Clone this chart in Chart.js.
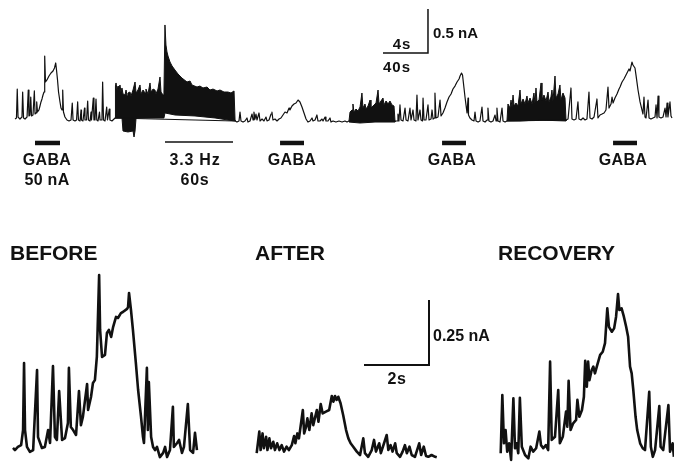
<!DOCTYPE html>
<html>
<head>
<meta charset="utf-8">
<script src="https://cdn.jsdelivr.net/npm/chart.js@4.4.0/dist/chart.umd.min.js"></script>
<style>
  html, body { margin:0; padding:0; background:#fff; }
  #wrap { position:relative; width:674px; height:464px; overflow:hidden; background:#fff; }
  canvas { position:absolute; left:0; }
  .t { position:absolute; font-family:"Liberation Sans", Arial, sans-serif; font-weight:bold; color:#111; white-space:nowrap; line-height:1; }
  .c { transform:translate(-50%,-50%); }
  .l { transform:translate(0,-50%); }
</style>
</head>
<body>
<div id="wrap">
  <canvas id="top" width="674" height="200" style="top:0"></canvas>
  <canvas id="bot" width="674" height="204" style="top:260px"></canvas>

  <div class="t c" style="left:47px;top:160px;font-size:16px;letter-spacing:0.3px">GABA</div>
  <div class="t c" style="left:47px;top:180px;font-size:16px;letter-spacing:0.3px">50 nA</div>
  <div class="t c" style="left:195px;top:160px;font-size:16px;letter-spacing:0.8px">3.3 Hz</div>
  <div class="t c" style="left:195px;top:180px;font-size:16px;letter-spacing:0.8px">60s</div>
  <div class="t c" style="left:292px;top:160px;font-size:16px;letter-spacing:0.3px">GABA</div>
  <div class="t c" style="left:452px;top:160px;font-size:16px;letter-spacing:0.3px">GABA</div>
  <div class="t c" style="left:623px;top:160px;font-size:16px;letter-spacing:0.3px">GABA</div>
  <div class="t c" style="left:402px;top:43px;font-size:15px;letter-spacing:1px">4s</div>
  <div class="t c" style="left:397px;top:66px;font-size:15px;letter-spacing:1px">40s</div>
  <div class="t l" style="left:433px;top:32px;font-size:15px">0.5 nA</div>

  <div class="t l" style="left:10px;top:252px;font-size:21px">BEFORE</div>
  <div class="t l" style="left:255px;top:252px;font-size:21px">AFTER</div>
  <div class="t l" style="left:498px;top:252px;font-size:21px">RECOVERY</div>
  <div class="t c" style="left:397px;top:379px;font-size:16px;letter-spacing:0.5px">2s</div>
  <div class="t l" style="left:433px;top:336px;font-size:16px">0.25 nA</div>
</div>
<script>
// ---------- DATA: top slow record (time s, current nA) ----------
const topSegA = [[0,0.045],[1.3,0.057],[2.0,0.386],[2.7,0.068],[4.4,0.045],[6.2,0.068],[6.8,0.352],[7.6,0.057],[8.9,0.045],[10.7,0.068],[11.8,0.375],[12.4,0.080],[13.3,0.091],[14.0,0.295],[14.7,0.080],[16.0,0.091],[17.2,0.364],[17.8,0.102],[18.7,0.114],[19.3,0.239],[20.0,0.125],[21.3,0.148],[22.2,0.193],[23.1,0.239],[24.0,0.273],[24.9,0.318],[25.8,0.352],[26.4,0.761],[27.1,0.466],[28.4,0.489],[30.2,0.534],[32.0,0.568],[33.8,0.591],[35.1,0.625],[36.2,0.682],[36.9,0.602],[37.8,0.489],[38.7,0.352],[40.0,0.239],[40.9,0.170],[41.8,0.148],[42.4,0.375],[43.1,0.125],[44.4,0.068],[46.2,0.034],[48.0,0.023],[49.8,0.034],[50.9,0.227],[51.6,0.034],[53.3,0.023],[54.7,0.034],[55.7,0.239],[56.4,0.034],[57.8,0.023],[58.7,0.148],[59.1,0.034],[60.4,0.023],[61.8,0.170],[62.2,0.034],[63.6,0.034],[64.6,0.250],[65.3,0.034],[66.7,0.023],[67.6,0.125],[68.0,0.034],[69.6,0.284],[70.2,0.034],[71.1,0.034],[72.0,0.273],[72.7,0.034],[73.8,0.023],[75.1,0.125],[75.6,0.034],[77.3,0.034],[77.9,0.466],[78.7,0.034],[80.0,0.023],[81.5,0.182],[82.2,0.034],[83.8,0.159],[84.4,0.034],[86.2,0.023],[88.0,0.045],[88.9,0.057]];
const topSegB = [[195.6,0.023],[197.3,0.011],[199.1,0.023],[200.0,0.125],[200.9,0.023],[202.7,0.011],[204.4,0.023],[206.2,0.057],[207.1,0.011],[208.9,0.023],[210.7,0.102],[211.6,0.034],[212.4,0.125],[213.3,0.045],[214.2,0.102],[215.1,0.034],[216.9,0.114],[217.8,0.023],[219.6,0.045],[221.3,0.023],[223.1,0.068],[224.0,0.023],[225.8,0.034],[227.6,0.102],[228.4,0.125],[229.3,0.034],[231.1,0.045],[232.9,0.023],[234.7,0.045],[236.4,0.057],[238.2,0.091],[240.0,0.125],[241.8,0.114],[243.6,0.170],[244.4,0.148],[246.2,0.193],[248.0,0.216],[249.8,0.227],[251.6,0.261],[253.3,0.239],[255.1,0.182],[256.9,0.114],[258.7,0.045],[260.4,0.011],[262.2,0.023],[264.0,0.057],[264.9,0.023],[266.7,0.034],[268.4,0.091],[269.3,0.023],[271.1,0.023],[272.9,0.045],[273.8,0.023],[275.6,0.068],[276.4,0.023],[278.2,0.023],[280.0,0.057],[280.9,0.011],[282.7,0.023],[285.3,0.011],[288.0,0.023],[290.7,0.011],[293.3,0.023],[295.1,0.011],[296.9,0.023]];
const topSegC = [[337.8,0.023],[339.6,0.023],[340.4,0.102],[341.3,0.023],[342.2,0.205],[343.1,0.034],[344.9,0.023],[346.7,0.170],[347.6,0.034],[349.3,0.023],[351.1,0.170],[352.0,0.034],[353.8,0.148],[354.7,0.034],[356.4,0.023],[357.3,0.318],[358.2,0.034],[360.0,0.148],[360.9,0.034],[362.2,0.023],[362.7,0.284],[363.6,0.034],[365.3,0.034],[367.1,0.205],[368.0,0.034],[369.8,0.045],[370.7,0.148],[371.6,0.045],[372.9,0.057],[373.3,0.341],[374.2,0.057],[376.0,0.068],[377.8,0.261],[378.7,0.080],[380.4,0.114],[382.2,0.170],[384.0,0.239],[385.8,0.295],[387.6,0.330],[389.3,0.386],[391.1,0.420],[392.9,0.466],[394.7,0.500],[395.6,0.534],[396.9,0.568],[397.8,0.545],[399.1,0.398],[400.0,0.295],[400.9,0.205],[401.8,0.114],[402.7,0.284],[403.1,0.091],[404.4,0.057],[406.2,0.034],[408.0,0.023],[408.9,0.125],[409.8,0.023],[411.6,0.011],[413.3,0.023],[415.1,0.182],[416.0,0.023],[417.8,0.011],[419.6,0.034],[420.4,0.170],[421.3,0.023],[423.1,0.011],[424.9,0.023],[426.7,0.091],[427.6,0.023],[428.4,0.170],[429.3,0.023],[431.1,0.011],[432.9,0.170],[433.8,0.023],[435.6,0.011],[437.3,0.023]];
const topSegD = [[489.8,0.034],[491.6,0.045],[494.2,0.398],[495.1,0.045],[496.9,0.034],[498.7,0.045],[500.4,0.239],[501.3,0.045],[503.1,0.034],[504.9,0.057],[506.7,0.034],[508.4,0.045],[510.2,0.352],[511.1,0.057],[512.9,0.045],[514.7,0.068],[517.3,0.273],[518.2,0.057],[520.0,0.091],[521.8,0.102],[523.6,0.114],[525.3,0.148],[527.1,0.409],[528.0,0.170],[529.8,0.216],[530.7,0.295],[531.6,0.227],[533.3,0.284],[535.1,0.330],[536.9,0.386],[537.8,0.409],[539.6,0.466],[541.3,0.500],[543.1,0.545],[544.0,0.568],[545.8,0.614],[546.7,0.591],[548.4,0.693],[549.3,0.659],[551.1,0.625],[552.0,0.545],[553.8,0.375],[555.6,0.239],[557.3,0.148],[558.2,0.102],[559.1,0.295],[560.0,0.068],[560.9,0.057],[562.7,0.261],[563.6,0.057],[565.3,0.045],[567.1,0.057],[568.9,0.068],[569.8,0.205],[570.7,0.057],[571.6,0.307],[572.4,0.068],[574.2,0.057],[576.0,0.068],[577.8,0.170],[578.7,0.068],[579.6,0.227],[580.4,0.068],[582.2,0.239],[583.1,0.080],[584.0,0.057]];

// dense (unresolved) activity: upper and lower envelopes
const burst1Upper = [[88.9,0.057],[89.3,0.420],[89.8,0.455],[90.7,0.375],[91.6,0.420],[92.4,0.364],[93.3,0.432],[94.2,0.352],[95.1,0.398],[96.0,0.330],[97.8,0.318],[98.7,0.375],[99.6,0.307],[100.4,0.341],[102.2,0.352],[103.1,0.307],[104.9,0.375],[106.7,0.466],[107.6,0.341],[109.3,0.375],[111.1,0.432],[112.0,0.330],[113.8,0.375],[115.6,0.341],[116.4,0.386],[118.2,0.330],[120.0,0.455],[120.9,0.352],[122.7,0.386],[124.4,0.375],[125.3,0.330],[127.1,0.386],[128.9,0.523],[129.8,0.352],[131.6,0.318],[132.4,0.352],[133.3,1.114],[134.2,0.886],[135.1,0.807],[136.0,0.761],[137.8,0.693],[139.6,0.648],[142.2,0.602],[144.9,0.557],[148.4,0.511],[152.9,0.466],[155.6,0.477],[157.3,0.432],[161.8,0.409],[164.4,0.420],[167.1,0.398],[170.7,0.409],[173.3,0.375],[176.0,0.386],[179.6,0.364],[182.2,0.375],[185.8,0.352],[189.3,0.352],[192.0,0.341],[194.7,0.364],[195.6,0.034]];
const burst1Lower = [[88.9,0.057],[95.1,0.057],[96.0,-0.091],[100.4,-0.102],[104.9,-0.091],[105.8,-0.159],[106.7,-0.091],[107.6,0.057],[120.0,0.057],[132.4,0.057],[133.3,0.114],[142.2,0.091],[160.0,0.080],[177.8,0.057],[189.3,0.034],[195.6,0.023]];
const burst2Upper = [[296.9,0.023],[297.8,0.125],[299.6,0.148],[300.4,0.216],[301.3,0.125],[303.1,0.159],[304.9,0.136],[306.7,0.182],[308.4,0.341],[309.3,0.170],[311.1,0.216],[312.0,0.159],[313.8,0.193],[315.6,0.261],[316.4,0.170],[319.1,0.205],[320.9,0.227],[322.7,0.375],[323.6,0.216],[325.3,0.250],[327.1,0.284],[328.0,0.205],[329.8,0.250],[331.6,0.216],[333.3,0.250],[335.1,0.205],[336.9,0.193],[337.8,0.023]];
const burst2Lower = [[296.9,0.011],[306.7,0],[320.0,0.011],[337.8,0.011]];
const burst3Upper = [[437.3,0.023],[438.2,0.216],[440.0,0.170],[440.9,0.261],[441.8,0.182],[442.7,0.318],[443.6,0.193],[445.3,0.227],[447.1,0.193],[448.9,0.375],[449.8,0.216],[451.6,0.273],[453.3,0.216],[455.1,0.307],[456.0,0.227],[457.8,0.284],[459.6,0.216],[461.3,0.341],[462.2,0.227],[463.1,0.398],[464.0,0.239],[465.8,0.261],[467.6,0.455],[468.4,0.261],[470.2,0.318],[472.0,0.250],[473.8,0.352],[474.7,0.239],[476.4,0.295],[477.3,0.375],[478.2,0.250],[480.0,0.534],[480.9,0.284],[482.7,0.330],[484.4,0.432],[485.3,0.261],[487.1,0.341],[488.9,0.284],[489.8,0.034]];
const burst3Lower = [[437.3,0.023],[448.9,0.023],[464.9,0.034],[489.8,0.023]];

// event markers (s) and calibration
const gabaPulses = [[17.8,40.0],[235.6,256.9],[379.6,400.9],[531.6,552.9]];
const stimTrain = [133.3,193.8];            // 3.3 Hz, 60 s
const markerLevel = -0.227;                 // nA (level where bars are drawn)
const topCal = {t0:327.1, dt:40, i0:0.795, di:0.5};

// ---------- DATA: expanded records (time s, current nA) ----------
const before = [[0,0.027],[0.06,0.019],[0.15,0.031],[0.25,0.038],[0.31,0.096],[0.34,0.354],[0.37,0.096],[0.43,0.031],[0.52,0.012],[0.62,0.019],[0.74,0.327],[0.77,0.069],[0.80,0.058],[0.89,0.027],[0.98,0.031],[1.08,0.096],[1.14,0.046],[1.23,0.342],[1.29,0.069],[1.35,0.058],[1.42,0.246],[1.51,0.058],[1.60,0.065],[1.69,0.123],[1.72,0.335],[1.78,0.108],[1.85,0.096],[1.94,0.077],[2.03,0.246],[2.09,0.115],[2.15,0.146],[2.28,0.273],[2.31,0.173],[2.40,0.223],[2.46,0.277],[2.52,0.288],[2.58,0.377],[2.65,0.692],[2.68,0.481],[2.74,0.377],[2.83,0.385],[2.89,0.469],[2.95,0.481],[3.02,0.454],[3.08,0.492],[3.17,0.531],[3.23,0.527],[3.32,0.546],[3.38,0.550],[3.51,0.562],[3.54,0.569],[3.57,0.623],[3.63,0.558],[3.69,0.481],[3.78,0.354],[3.85,0.250],[3.94,0.146],[4.00,0.069],[4.03,0.046],[4.12,0.335],[4.15,0.096],[4.18,0.281],[4.25,0.069],[4.31,0.031],[4.37,0.019],[4.43,0.031],[4.52,-0.008],[4.62,0.008],[4.68,0.031],[4.74,-0.008],[4.83,0.019],[4.92,0.185],[4.95,0.031],[5.05,0.046],[5.11,0.058],[5.20,0.008],[5.26,0.031],[5.38,0.196],[5.45,0.019],[5.54,0.008],[5.60,0.085],[5.66,0.019]];
const after = [[0,0.007],[0.08,0.090],[0.12,0.019],[0.18,0.083],[0.22,0.026],[0.29,0.070],[0.33,0.019],[0.39,0.064],[0.44,0.026],[0.51,0.051],[0.56,0.019],[0.63,0.045],[0.70,0.019],[0.77,0.038],[0.84,0.013],[0.92,0.032],[0.99,0.019],[1.08,0.038],[1.15,0.073],[1.19,0.045],[1.25,0.083],[1.30,0.064],[1.42,0.173],[1.46,0.083],[1.52,0.109],[1.56,0.141],[1.62,0.096],[1.69,0.160],[1.74,0.115],[1.85,0.173],[1.90,0.128],[1.97,0.196],[2.03,0.160],[2.13,0.167],[2.23,0.173],[2.31,0.227],[2.36,0.205],[2.41,0.227],[2.46,0.212],[2.51,0.224],[2.58,0.199],[2.66,0.154],[2.75,0.096],[2.82,0.064],[2.89,0.045],[2.97,0.032],[3.08,0.013],[3.18,0],[3.28,0.064],[3.33,0.007],[3.43,-0.007],[3.54,0.019],[3.61,0.058],[3.67,0.013],[3.77,0.045],[3.82,0.007],[4.00,0.077],[4.05,0.019],[4.12,0.038],[4.18,0.013],[4.26,0.045],[4.31,0.007],[4.41,-0.007],[4.49,0.013],[4.56,0.038],[4.62,0.007],[4.70,0.032],[4.77,0],[4.87,-0.007],[5.00,0.045],[5.06,0],[5.14,0.032],[5.21,-0.004],[5.28,-0.007],[5.38,0],[5.49,-0.007],[5.54,-0.009]];
const recovery = [[0,0.007],[0.05,0.231],[0.10,0.045],[0.15,0.096],[0.20,0.013],[0.26,0.045],[0.32,-0.019],[0.39,0.218],[0.44,0.026],[0.49,0.045],[0.54,0.007],[0.59,0.220],[0.65,0.032],[0.75,0],[0.85,-0.013],[0.92,0.032],[1.00,0.013],[1.09,0.026],[1.19,0.090],[1.24,0.038],[1.31,0.026],[1.39,0.038],[1.46,0.019],[1.52,0.359],[1.57,0.058],[1.67,0.070],[1.77,0.250],[1.82,0.045],[1.91,0.070],[2.01,0.167],[2.05,0.109],[2.09,0.285],[2.15,0.096],[2.23,0.122],[2.32,0.135],[2.36,0.212],[2.42,0.147],[2.50,0.173],[2.56,0.224],[2.60,0.362],[2.65,0.263],[2.69,0.359],[2.73,0.288],[2.80,0.327],[2.85,0.340],[2.90,0.314],[2.97,0.346],[3.06,0.385],[3.14,0.397],[3.21,0.430],[3.28,0.564],[3.33,0.493],[3.42,0.474],[3.49,0.487],[3.55,0.532],[3.61,0.619],[3.65,0.558],[3.72,0.564],[3.79,0.532],[3.86,0.493],[3.92,0.455],[3.98,0.340],[4.03,0.314],[4.08,0.250],[4.15,0.147],[4.20,0.096],[4.29,0.045],[4.37,0.026],[4.44,0.019],[4.57,0.243],[4.62,0.032],[4.68,-0.007],[4.75,0.019],[4.88,0.188],[4.92,0.032],[5.00,0.019],[5.16,0.192],[5.21,0.013],[5.29,0.045],[5.33,-0.007]];
const botCal = {t0:11.2, dt:2, i0:0.346, di:0.25};

// ---------- helpers ----------
const pts = a => a.map(p => ({x:p[0], y:p[1]}));
const INK = '#111';
function lineDs(data, w, extra) {
  return Object.assign({data, borderColor:INK, backgroundColor:INK, borderWidth:w,
    pointRadius:0, showLine:true, fill:false, tension:0, clip:false,
    borderJoinStyle:'round', borderCapStyle:'butt'}, extra || {});
}
function polyDs(upper, lower) {
  const ring = pts(upper.concat(lower.slice().reverse()));
  return lineDs(ring, 1, {fill:'shape', backgroundColor:INK});
}
const baseOpts = {
  responsive:false, animation:false, devicePixelRatio:1,
  layout:{padding:0},
  plugins:{legend:{display:false}, tooltip:{enabled:false}},
  events:[]
};

// ---------- top chart ----------
const W = 674;
const TOP = {x0:15, pxPerS:1.125, baseY:123, pxPerNA:88, h:200};
const topDatasets = [
  lineDs(pts(topSegA.concat(topSegB, topSegC, topSegD)), 1.2),
  polyDs(burst1Upper, burst1Lower),
  polyDs(burst2Upper, burst2Lower),
  polyDs(burst3Upper, burst3Lower)
];
gabaPulses.forEach(g => topDatasets.push(lineDs(pts([[g[0],markerLevel],[g[1],markerLevel]]), 4.5)));
topDatasets.push(lineDs(pts([[stimTrain[0],markerLevel+0.011],[stimTrain[1],markerLevel+0.011]]), 1.5));
topDatasets.push(lineDs(pts([[topCal.t0,topCal.i0],[topCal.t0+topCal.dt,topCal.i0],[topCal.t0+topCal.dt,topCal.i0+topCal.di]]), 1.5, {borderJoinStyle:'miter'}));

new Chart(document.getElementById('top'), {
  type:'scatter',
  data:{datasets:topDatasets},
  options:Object.assign({}, baseOpts, {
    scales:{
      x:{type:'linear', display:false, min:-TOP.x0/TOP.pxPerS, max:(W-TOP.x0)/TOP.pxPerS},
      y:{type:'linear', display:false, min:(TOP.baseY-TOP.h)/TOP.pxPerNA, max:TOP.baseY/TOP.pxPerNA}
    }
  })
});

// ---------- bottom chart ----------
const BOT = {pxPerS:32.5, pxPerNA:260, baseY:195, h:204,
  offsets:{xB:13, xA:256.7, xR:500.7, xS:0}};
const xScale = off => ({type:'linear', display:false, min:-off/BOT.pxPerS, max:(W-off)/BOT.pxPerS});
const botDatasets = [
  lineDs(pts(before), 2.6, {xAxisID:'xB'}),
  lineDs(pts(after), 2.6, {xAxisID:'xA'}),
  lineDs(pts(recovery), 2.6, {xAxisID:'xR'}),
  lineDs(pts([[botCal.t0,botCal.i0],[botCal.t0+botCal.dt,botCal.i0],[botCal.t0+botCal.dt,botCal.i0+botCal.di]]), 2, {xAxisID:'xS', borderJoinStyle:'miter'})
];
new Chart(document.getElementById('bot'), {
  type:'scatter',
  data:{datasets:botDatasets},
  options:Object.assign({}, baseOpts, {
    scales:{
      xB:Object.assign({axis:'x'}, xScale(BOT.offsets.xB)),
      xA:Object.assign({axis:'x'}, xScale(BOT.offsets.xA)),
      xR:Object.assign({axis:'x'}, xScale(BOT.offsets.xR)),
      xS:Object.assign({axis:'x'}, xScale(BOT.offsets.xS)),
      y:{type:'linear', display:false, min:(BOT.baseY-BOT.h)/BOT.pxPerNA, max:BOT.baseY/BOT.pxPerNA}
    }
  })
});
</script>
</body>
</html>
